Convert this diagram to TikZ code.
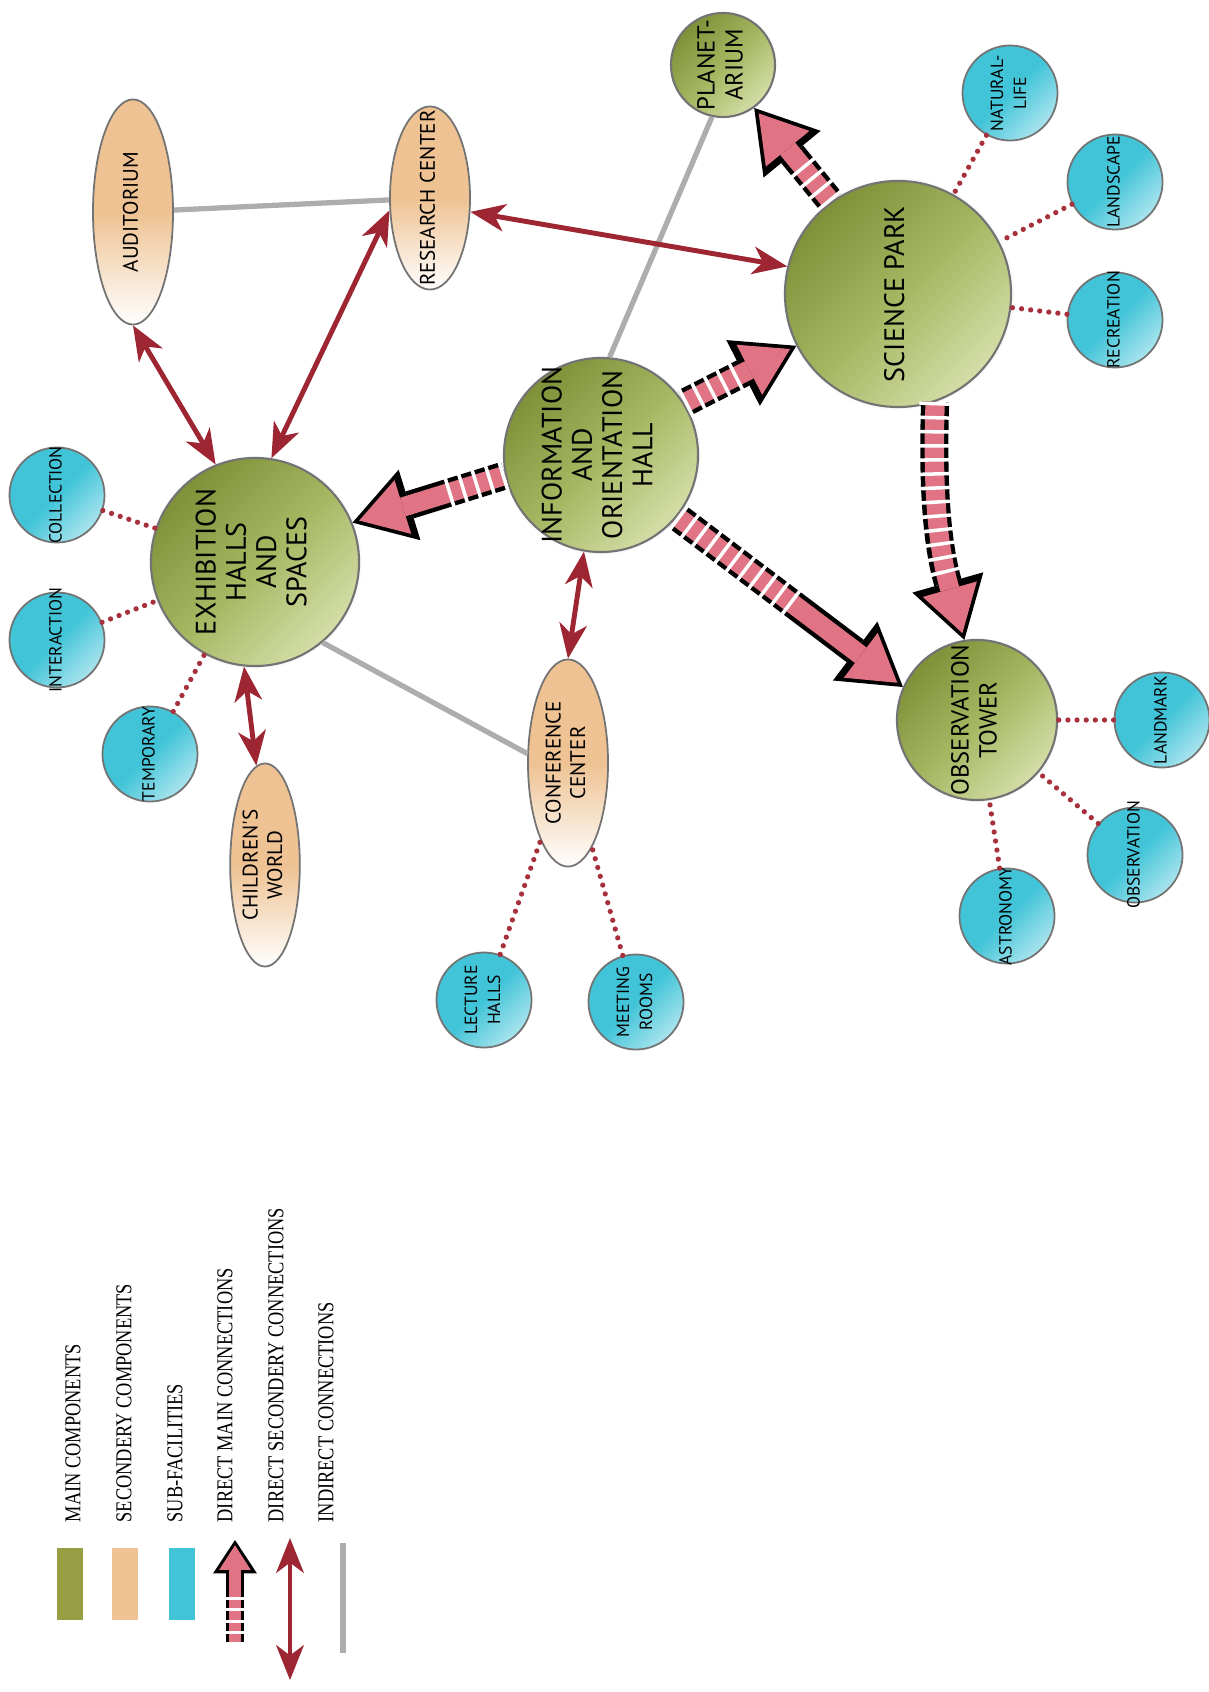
\documentclass[tikz,border=0pt]{standalone}
\usepackage{fontspec}
\usetikzlibrary{shapes.geometric,arrows.meta,shadows}

\newfontfamily\hand{PT Sans}
\newfontfamily\legendfont[FakeStretch=0.81]{Liberation Serif}

\definecolor{greendark}{RGB}{126,144,56}
\definecolor{greenmid}{RGB}{164,182,96}
\definecolor{greenlight}{RGB}{212,222,168}
\definecolor{greenkey}{RGB}{152,158,68}
\definecolor{sectan}{RGB}{238,194,146}
\definecolor{subcyan}{RGB}{66,196,216}
\definecolor{linkpink}{RGB}{224,116,132}
\definecolor{linkred}{RGB}{158,38,50}
\definecolor{dotred}{RGB}{166,48,60}

% labels are set in a zero-width box so the shapes keep their given size
\newcommand\nodetext[1]{\makebox[0pt]{\begin{tabular}{@{}c@{}}#1\end{tabular}}}

\tikzset{
  maincomp/.style={circle, rotate=90, inner sep=0pt, draw=black!55, line width=0.6pt,
    top color=greendark, bottom color=greenlight, middle color=greenmid, shading angle=45,
    circular drop shadow={opacity=0.3, shadow xshift=0pt, shadow yshift=0pt, shadow scale=1.03},
    font=\hand\fontsize{8}{8.6}\selectfont},
  seccomp/.style={ellipse, rotate=90, inner sep=0pt, draw=black!55, line width=0.5pt,
    top color=sectan, bottom color=white, middle color=sectan,
    font=\hand\fontsize{6}{7}\selectfont},
  subfac/.style={circle, rotate=90, inner sep=0pt, minimum size=0.95cm, draw=black!55, line width=0.5pt,
    top color=subcyan, bottom color=white!55!subcyan, middle color=subcyan, shading angle=45,
    font=\hand\fontsize{5}{6.5}\selectfont},
  keybox/.style={rectangle, inner sep=0pt, minimum width=0.26cm, minimum height=0.72cm},
  keytext/.style={rotate=90, anchor=west, inner sep=0pt, font=\legendfont\fontsize{6.45}{7}\selectfont},
  % big striped arrows between main components
  mainlink/.style={draw=linkpink, line width=5.5pt, shorten >=2pt,
    -{Triangle[length=13pt,width=16pt,line width=0pt]},
    preaction={draw=black, line width=8pt, shorten >=0pt, -{Triangle[length=17pt,width=21pt,line width=0pt]}},
    postaction={draw=white, line width=9pt, dash pattern=on 1pt off 3pt, shorten >=#1, -}},
  mainlink/.default=28pt,
  keylink/.style={draw=linkpink, line width=3.2pt, shorten >=1.5pt,
    -{Triangle[length=7pt,width=9pt,line width=0pt]},
    preaction={draw=black, line width=5pt, shorten >=0pt, -{Triangle[length=9.5pt,width=12.5pt,line width=0pt]}},
    postaction={draw=white, line width=6pt, dash pattern=on 0.8pt off 2.4pt, shorten >=14pt, -}},
  seclink/.style={draw=linkred, line width=1.4pt, >={Stealth[length=10pt,width=8pt,inset=3pt,line width=0pt]}, <->},
  sublink/.style={draw=dotred, line width=1.5pt, line cap=round, dash pattern=on 0pt off 2.6pt},
  indirect/.style={draw=black!32, line width=1.5pt},
}

\begin{document}
\begin{tikzpicture}[x=0.01cm, y=-0.01cm]
  \useasboundingbox (0,0) rectangle (1208,1692);
  \fill[white] (0,0) rectangle (1208,1692);

  % main components
  \node[maincomp, minimum size=2.08cm] (eh) at (255,562) {\nodetext{EXHIBITION\\HALLS\\AND\\SPACES}};
  \node[maincomp, minimum size=1.94cm] (ih) at (601,455) {\nodetext{INFORMATION\\AND\\ORIENTATION\\HALL}};
  \node[maincomp, minimum size=2.26cm] (sp) at (898,294) {\nodetext{SCIENCE PARK}};
  \node[maincomp, minimum size=1.60cm, font=\hand\fontsize{7}{8}\selectfont] (ot) at (977,720) {\nodetext{OBSERVATION\\TOWER}};
  \node[maincomp, minimum size=1.04cm, font=\hand\fontsize{7}{8}\selectfont] (pl) at (723,65) {\nodetext{PLANET-\\ARIUM}};

  % secondary components
  \node[seccomp, minimum width=2.25cm, minimum height=0.80cm] (aud) at (133,212) {\nodetext{AUDITORIUM}};
  \node[seccomp, minimum width=1.83cm, minimum height=0.80cm] (res) at (430,198) {\nodetext{RESEARCH CENTER}};
  \node[seccomp, minimum width=2.07cm, minimum height=0.80cm] (conf) at (568,763) {\nodetext{CONFERENCE\\CENTER}};
  \node[seccomp, minimum width=2.03cm, minimum height=0.68cm] (child) at (265,865) {\nodetext{CHILDREN'S\\WORLD}};

  % sub-facilities
  \node[subfac] (coll) at (57,495) {\nodetext{COLLECTION}};
  \node[subfac] (inter) at (57,640) {\nodetext{INTERACTION}};
  \node[subfac] (temp) at (150,754) {\nodetext{TEMPORARY}};
  \node[subfac] (lect) at (484,1000) {\nodetext{LECTURE\\HALLS}};
  \node[subfac] (meet) at (636,1002) {\nodetext{MEETING\\ROOMS}};
  \node[subfac] (land) at (1162,720) {\nodetext{LANDMARK}};
  \node[subfac] (obsv) at (1135,855) {\nodetext{OBSERVATION}};
  \node[subfac] (astr) at (1007,916) {\nodetext{ASTRONOMY}};
  \node[subfac] (nat) at (1010,93) {\nodetext{NATURAL-\\LIFE}};
  \node[subfac] (lands) at (1115,182) {\nodetext{LANDSCAPE}};
  \node[subfac] (recr) at (1115,320) {\nodetext{RECREATION}};

  % indirect connections
  \draw[indirect] (aud) -- (res);
  \draw[indirect] (eh.220) -- (conf.77);
  \draw[indirect] (pl.168) -- (ih.355);

  % sub-facility links
  \draw[sublink] (coll) -- (eh);
  \draw[sublink] (inter) -- (eh);
  \draw[sublink] (temp) -- (eh);
  \draw[sublink] (lect) -- (conf);
  \draw[sublink] (meet) -- (conf);
  \draw[sublink] (land) -- (ot);
  \draw[sublink] (obsv) -- (ot);
  \draw[sublink] (astr) -- (ot);
  \draw[sublink] (nat) -- (sp);
  \draw[sublink] (lands) -- (sp);
  \draw[sublink] (recr) -- (sp);

  % direct secondary connections
  \draw[seclink] (aud.west) -- (eh.22);
  \draw[seclink] (res.107) -- (eh.351);
  \draw[seclink] (res.251) -- (sp.76);
  \draw[seclink] (eh.174) -- (child.5);
  \draw[seclink] (ih.170) -- (conf.east);

  % direct main connections
  \draw[mainlink] (ih.102) -- (eh.292);
  \draw[mainlink=18pt] (ih.302) -- (sp.117);
  \draw[mainlink=37pt] (ih.231) -- (ot.66);
  \draw[mainlink=18pt] (sp.199) to[bend right=9] (ot.9);
  \draw[mainlink=20pt] (sp.36) -- (pl.216);

  % legend
  \node[keybox, fill=greenkey] (k-main) at (70,1584) {};
  \node[keybox, fill=sectan] (k-sec) at (125,1584) {};
  \node[keybox, fill=subcyan] (k-sub) at (182,1584) {};
  \coordinate (k-m1) at (235,1645);
  \coordinate (k-m2) at (235,1540);
  \draw[keylink] (k-m1) -- (k-m2);
  \coordinate (k-s1) at (290,1680);
  \coordinate (k-s2) at (290,1538);
  \draw[seclink] (k-s1) -- (k-s2);
  \coordinate (k-i1) at (343,1653);
  \coordinate (k-i2) at (343,1543);
  \draw[indirect] (k-i1) -- (k-i2);

  \node[keytext] (t-main) at (73,1523) {MAIN COMPONENTS};
  \node[keytext] (t-sec) at (124,1523) {SECONDERY COMPONENTS};
  \node[keytext] (t-sub) at (175,1523) {SUB-FACILITIES};
  \node[keytext] (t-dm) at (225,1523) {DIRECT MAIN CONNECTIONS};
  \node[keytext] (t-ds) at (276,1523) {DIRECT SECONDERY CONNECTIONS};
  \node[keytext] (t-in) at (326,1523) {INDIRECT CONNECTIONS};
\end{tikzpicture}
\end{document}
